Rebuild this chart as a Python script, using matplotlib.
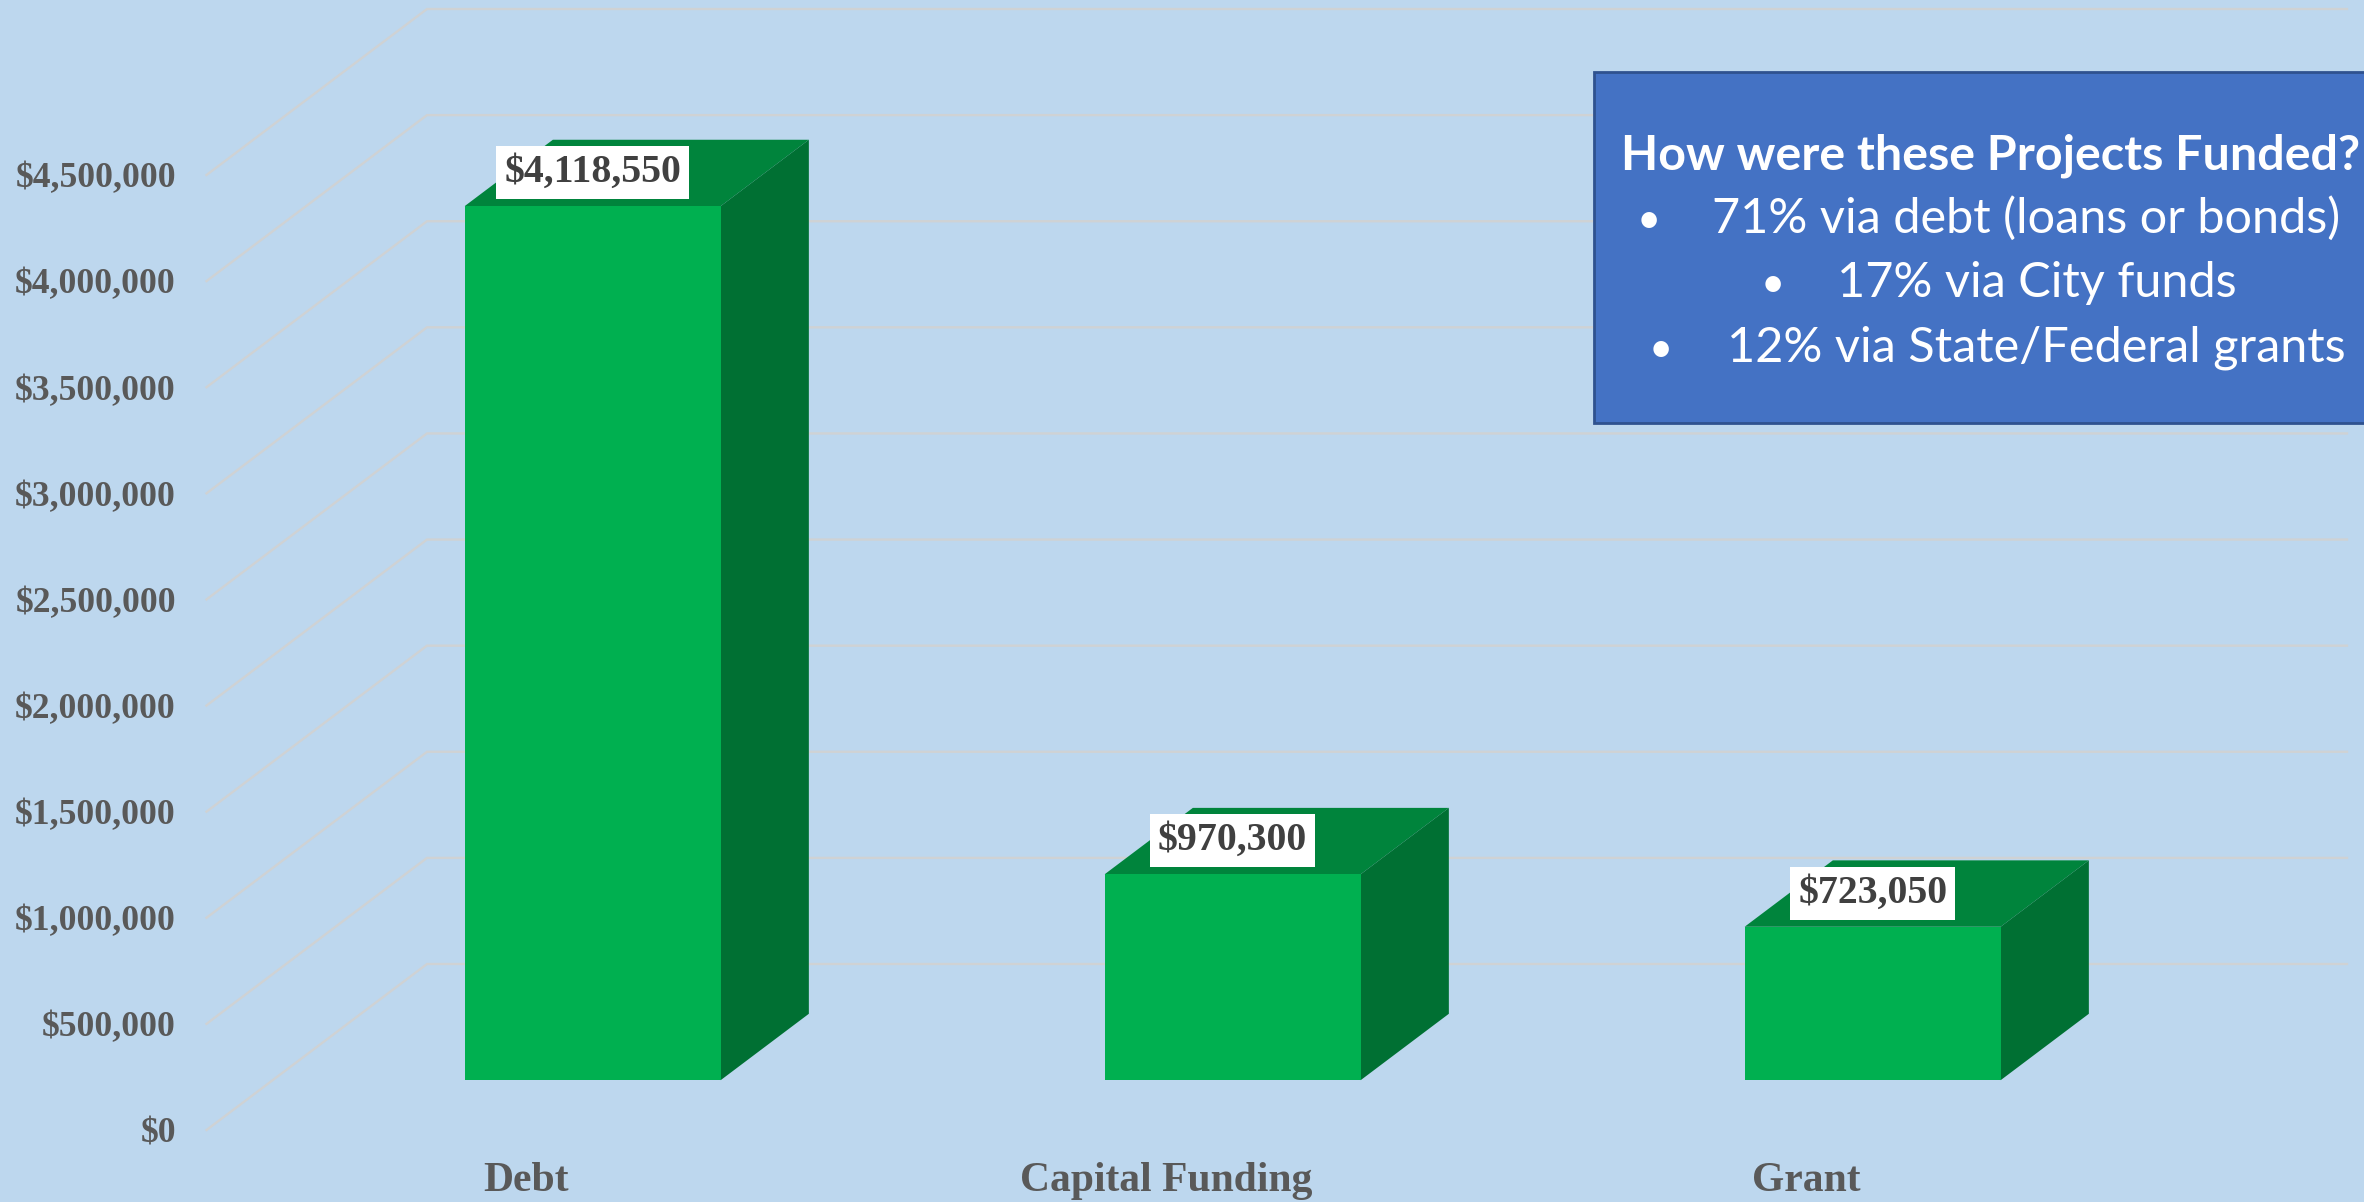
import matplotlib
matplotlib.use("Agg")
import matplotlib.pyplot as plt
from matplotlib.patches import Rectangle

categories = ["Debt", "Capital Funding", "Grant"]
values = [4118550, 970300, 723050]
value_labels = ["$4,118,550", "$970,300", "$723,050"]
ticks = [0, 500000, 1000000, 1500000, 2000000, 2500000, 3000000, 3500000, 4000000, 4500000]
box_title = "How were these Projects Funded?"
box_lines = ["71% via debt (loans or bonds)", "17% via City funds", "12% via State/Federal grants"]

BG = "#BDD7EE"
FRONT = "#00B050"
TOP = "#00843C"
SIDE = "#007033"
GRID = "#CFD2D4"
W, H = 2364, 1202

fig = plt.figure(figsize=(W / 100, H / 100), dpi=100, facecolor=BG)
ax = fig.add_axes([206.5 / W, (H - 1130) / H, 1920 / W, 955 / H])
ax.set_xlim(-0.5, 2.5)
ax.set_ylim(0, 4500000)
ax.patch.set_visible(False)
for s in ax.spines.values():
	s.set_visible(False)

# full floor depth, in data units
DX = 220.5 / 640
DY = 166 / 955 * 4500000
BAR_W = 0.4
D0, D1 = 0.3, 0.7

for t in ticks:
	ax.plot([-0.5, -0.5 + DX, 2.5 + DX], [t, t + DY, t + DY], color=GRID, lw=1.7, clip_on=False, zorder=1, solid_joinstyle="miter")

for i, v in enumerate(values):
	x0 = i - BAR_W / 2 + D0 * DX
	x1 = x0 + BAR_W
	y0 = D0 * DY
	ddx = (D1 - D0) * DX
	ddy = (D1 - D0) * DY
	ax.bar(x0 + BAR_W / 2, v, BAR_W, bottom=y0, color=FRONT, zorder=3, clip_on=False)
	ax.fill([x0, x1, x1 + ddx, x0 + ddx], [y0 + v, y0 + v, y0 + v + ddy, y0 + v + ddy], color=TOP, lw=0, zorder=2, clip_on=False)
	ax.fill([x1, x1 + ddx, x1 + ddx, x1], [y0, y0 + ddy, y0 + v + ddy, y0 + v], color=SIDE, lw=0, zorder=2, clip_on=False)
	ax.annotate(value_labels[i], (x0 + BAR_W / 2, y0 + v), xytext=(0, 24.2), textcoords="offset points",
		ha="center", va="center", family="Liberation Serif", weight="bold", fontsize=28.7, color="#404040", zorder=5,
		bbox=dict(boxstyle="square,pad=0.2", fc="white", ec="none"), annotation_clip=False)

ax.set_yticks(ticks)
ax.set_yticklabels(["${:,}".format(t) for t in ticks], family="Liberation Serif", weight="bold", fontsize=25.7, color="#595959")
ax.set_xticks(range(len(categories)))
ax.set_xticklabels(categories, family="Liberation Serif", weight="bold", fontsize=30, color="#595959")
ax.tick_params(axis="y", length=0, pad=22)
ax.tick_params(axis="x", length=0, pad=23)

# text box runs off the right edge
fig.add_artist(Rectangle((1594 / W, (H - 423) / H), 900 / W, 351 / H, transform=fig.transFigure, fc="#4472C4", ec="#2F528F", lw=2, zorder=6))
def box_text(x, y, s, **kw):
	fig.text(x / W, (H - y) / H, s, color="white", family="Lato", va="baseline", zorder=7, **kw)

box_text(1621, 169, box_title, weight="bold", fontsize=34.8)
starts = [(1712, 233, 1649), (1837, 297, 1773), (1727, 362, 1661)]
for s, (x, y, bx) in zip(box_lines, starts):
	box_text(x, y, s, fontsize=35)
	box_text(bx, y, "\u2022", fontsize=30, ha="center")

fig.savefig("out.png", dpi=100, facecolor=BG)
